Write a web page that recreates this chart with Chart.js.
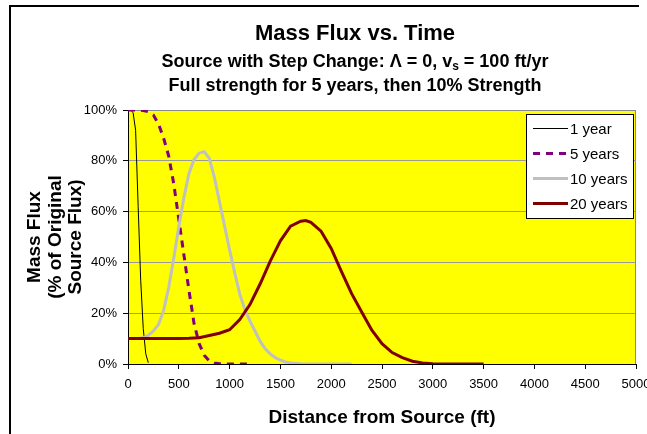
<!DOCTYPE html>
<html>
<head>
<meta charset="utf-8">
<title>Mass Flux vs. Time</title>
<script src="https://cdn.jsdelivr.net/npm/chart.js@4.4.1/dist/chart.umd.min.js"></script>
<style>
  html, body { margin: 0; padding: 0; background: #fff; overflow: hidden; }
  canvas { display: block; }
</style>
</head>
<body>
<canvas id="fluxChart" width="647" height="434"></canvas>
<script>
// ---- data (distance in ft, flux in % of original) ----
const dist1yr = [0, 25, 50, 75, 100, 125, 150, 175, 200];
const flux1yr = [100, 100, 99, 92, 62, 33, 14, 4, 0.5];

const dist5yr = [0, 50, 100, 150, 200, 250, 300, 350, 400, 450, 500, 550, 600,
                 650, 700, 750, 800, 850, 900, 950, 1000, 1050, 1100, 1150, 1200];
const flux5yr = [100, 100, 100, 99.8, 99.3, 98, 94.5, 89, 82, 71, 57, 43, 29,
                 16, 8, 3.5, 1.2, 0.4, 0.1, 0, 0, 0, 0, 0, 0];

const dist10yr = [0, 50, 100, 150, 200, 250, 300, 350, 400, 450, 500, 550, 600, 650,
                  700, 750, 800, 850, 900, 950, 1000, 1050, 1100, 1150, 1200, 1250,
                  1300, 1350, 1400, 1450, 1500, 1550, 1600, 1700, 1800, 1900, 2000, 2100, 2200];
const flux10yr = [10, 10, 10, 10.3, 11.3, 13, 15.5, 21, 30, 41.5, 54, 65.5, 75, 80.5,
                  83, 83.6, 81, 73.5, 64, 54.5, 45, 36, 27.5, 21.5, 17, 13,
                  9, 6, 4, 2.5, 1.5, 0.8, 0.4, 0.1, 0, 0, 0, 0, 0];

const dist20yr = [0, 100, 200, 300, 400, 500, 600, 700, 800, 900, 1000, 1100, 1200,
                  1300, 1400, 1500, 1600, 1700, 1750, 1800, 1900, 2000, 2100, 2200, 2300,
                  2400, 2500, 2600, 2700, 2800, 2900, 3000, 3100, 3200, 3300, 3400, 3500];
const flux20yr = [10, 10, 10, 10, 10, 10, 10.1, 10.3, 11.2, 12.1, 13.5, 17.5, 23.4,
                  31.5, 40.5, 48.5, 54.3, 56.2, 56.5, 55.8, 52.3, 45.5, 36.5, 27.8, 20.5,
                  13.3, 8, 4.5, 2.5, 1.1, 0.4, 0.1, 0, 0, 0, 0, 0];

const seriesLabels = ['1 year', '5 years', '10 years', '20 years'];
const xTicks = { min: 0, max: 5000, step: 500 };
const yTicks = { min: 0, max: 100, step: 20 };

const FONT = "'Liberation Sans', Arial, sans-serif";

function toPoints(xs, ys) {
    return xs.map((x, i) => ({ x: x, y: ys[i] }));
}

/* =========================
   plugins: background, frame, titles, legend
========================= */
const plotFrame = {
    id: 'plotFrame',
    beforeDraw(chart) {
        const { ctx, chartArea: a } = chart;
        ctx.save();
        ctx.fillStyle = '#fff';
        ctx.fillRect(0, 0, chart.width, chart.height);
        ctx.fillStyle = '#ffff00';
        ctx.fillRect(a.left, a.top, a.right - a.left, a.bottom - a.top);
        // outer chart border: only the left and top edges are in the picture
        ctx.fillStyle = '#000';
        ctx.fillRect(9, 5, 2, chart.height - 5);
        ctx.fillRect(9, 5, 630, 2);
        ctx.restore();
    },
    beforeDatasetsDraw(chart) {
        const { ctx, chartArea: a } = chart;
        ctx.save();
        ctx.strokeStyle = '#888';
        ctx.lineWidth = 1;
        ctx.beginPath();
        ctx.moveTo(a.left, Math.round(a.top) + 0.5);
        ctx.lineTo(Math.round(a.right) - 0.5, Math.round(a.top) + 0.5);
        ctx.lineTo(Math.round(a.right) - 0.5, a.bottom);
        ctx.stroke();
        ctx.restore();
    }
};

const titleBlock = {
    id: 'titleBlock',
    afterDraw(chart) {
        const ctx = chart.ctx;
        const cx = 355;
        ctx.save();
        ctx.fillStyle = '#000';
        ctx.textBaseline = 'alphabetic';
        ctx.textAlign = 'center';
        ctx.font = 'bold 22px ' + FONT;
        ctx.fillText('Mass Flux vs. Time', cx, 40);

        // second line with subscript s
        const big = 'bold 18px ' + FONT, small = 'bold 12px ' + FONT;
        const runs = [
            { t: 'Source with Step Change: \u039B = 0, v', f: big, dy: 0 },
            { t: 's', f: small, dy: 3 },
            { t: ' = 100 ft/yr', f: big, dy: 0 }
        ];
        let total = 0;
        runs.forEach(r => { ctx.font = r.f; r.w = ctx.measureText(r.t).width; total += r.w; });
        let x = cx - total / 2;
        ctx.textAlign = 'left';
        runs.forEach(r => { ctx.font = r.f; ctx.fillText(r.t, x, 67 + r.dy); x += r.w; });

        ctx.textAlign = 'center';
        ctx.font = big;
        ctx.fillText('Full strength for 5 years, then 10% Strength', cx, 91);
        ctx.restore();
    }
};

const legendBox = {
    id: 'legendBox',
    afterDraw(chart) {
        const ctx = chart.ctx;
        const x0 = 526, y0 = 114, w = 107, h = 104;
        ctx.save();
        ctx.fillStyle = '#fff';
        ctx.fillRect(x0, y0, w, h);
        ctx.strokeStyle = '#000';
        ctx.lineWidth = 1;
        ctx.strokeRect(x0 + 0.5, y0 + 0.5, w, h);
        chart.data.datasets.forEach((ds, i) => {
            const y = 128.5 + i * 25;
            ctx.strokeStyle = ds.borderColor;
            ctx.lineWidth = ds.borderWidth;
            ctx.setLineDash(ds.borderDash || []);
            ctx.beginPath();
            ctx.moveTo(533, y);
            ctx.lineTo(568, y);
            ctx.stroke();
            ctx.setLineDash([]);
            ctx.fillStyle = '#000';
            ctx.font = '15px ' + FONT;
            ctx.textBaseline = 'middle';
            ctx.textAlign = 'left';
            ctx.fillText(ds.label, 570, y + 1);
        });
        ctx.restore();
    }
};

/* =========================
   chart
========================= */
Chart.defaults.font.family = FONT;
Chart.defaults.color = '#000';

const ctx = document.getElementById('fluxChart').getContext('2d');
new Chart(ctx, {
    type: 'line',
    data: {
        datasets: [
            {
                label: seriesLabels[0],
                data: toPoints(dist1yr, flux1yr),
                borderColor: '#000000',
                borderWidth: 1,
                order: 3
            },
            {
                label: seriesLabels[1],
                data: toPoints(dist5yr, flux5yr),
                borderColor: '#800080',
                borderWidth: 3,
                borderDash: [7, 6],
                order: 2
            },
            {
                label: seriesLabels[2],
                data: toPoints(dist10yr, flux10yr),
                borderColor: '#c0c0c0',
                borderWidth: 3,
                order: 1
            },
            {
                label: seriesLabels[3],
                data: toPoints(dist20yr, flux20yr),
                borderColor: '#800000',
                borderWidth: 3,
                order: 0
            }
        ]
    },
    options: {
        responsive: false,
        animation: false,
        layout: { padding: { top: 110, right: 11, left: 0, bottom: 0 } },
        elements: {
            point: { radius: 0, hoverRadius: 0 },
            line: { tension: 0, fill: false, borderCapStyle: 'butt' }
        },
        plugins: {
            legend: { display: false },
            title: { display: false },
            tooltip: { enabled: false }
        },
        scales: {
            x: {
                type: 'linear',
                min: xTicks.min,
                max: xTicks.max,
                ticks: {
                    stepSize: xTicks.step,
                    font: { size: 13 },
                    padding: 8,
                    maxRotation: 0,
                    autoSkip: false,
                    callback: v => String(v)
                },
                grid: {
                    drawOnChartArea: false,
                    drawTicks: true,
                    tickLength: 5,
                    tickColor: '#000'
                },
                border: { display: true, color: '#000', width: 1 },
                title: {
                    display: true,
                    text: 'Distance from Source (ft)',
                    font: { size: 19, weight: 'bold' },
                    padding: { top: 0, bottom: 5 }
                },
                afterFit(scale) {
                    scale.height = 70;
                    scale.paddingLeft = 0;
                    scale.paddingRight = 0;
                }
            },
            y: {
                min: yTicks.min,
                max: yTicks.max,
                ticks: {
                    stepSize: yTicks.step,
                    font: { size: 13 },
                    padding: 6,
                    callback: v => v + '%'
                },
                grid: {
                    color: '#999',
                    drawTicks: true,
                    tickLength: 5,
                    tickColor: '#000'
                },
                border: { display: true, color: '#000', width: 1 },
                title: {
                    display: true,
                    text: ['Mass Flux', '(% of Original', 'Source Flux)'],
                    font: { size: 19, weight: 'bold', lineHeight: 1.1 },
                    padding: { top: 24, bottom: 0 }
                },
                afterFit(scale) {
                    scale.width = 128;
                    scale.paddingTop = 0;
                    scale.paddingBottom = 0;
                }
            }
        }
    },
    plugins: [plotFrame, titleBlock, legendBox]
});
</script>
</body>
</html>
